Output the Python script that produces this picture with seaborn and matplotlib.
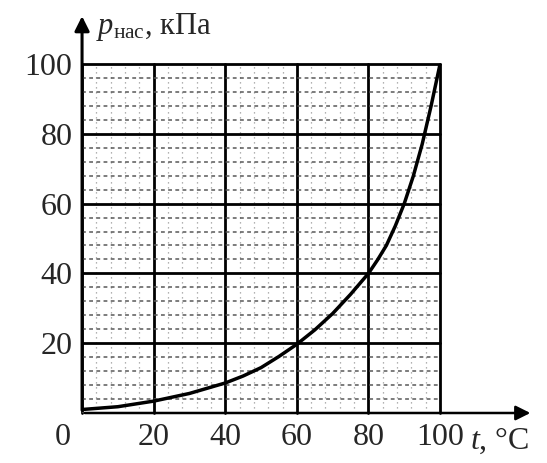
import matplotlib
matplotlib.use("Agg")
import matplotlib.pyplot as plt
import matplotlib.transforms as mtransforms
import seaborn as sns
import pandas as pd

# saturated vapour pressure curve
temps = [0, 10, 20, 30, 40, 45, 50, 55, 60, 65, 70, 75, 80, 82.5, 85,
         87.5, 90, 92.5, 95, 97.5, 100]
pressure = [1.0, 1.8, 3.4, 5.6, 8.6, 10.6, 13.0, 16.2, 19.7, 23.8, 28.5, 34.0, 40.0, 43.8, 48.0,
            53.6, 60.0, 67.8, 77.0, 88.0, 100.0]

x_ticks = [0, 20, 40, 60, 80, 100]
x_tick_labels = ["0", "20", "40", "60", "80", "100"]
y_ticks = [20, 40, 60, 80, 100]
y_tick_labels = ["20", "40", "60", "80", "100"]

df = pd.DataFrame({"t": temps, "p": pressure})

sns.set_style("white")
plt.rcParams['font.family'] = ['Liberation Serif', 'DejaVu Serif']
plt.rcParams['mathtext.fontset'] = 'custom'
plt.rcParams['mathtext.rm'] = 'Liberation Serif'
plt.rcParams['mathtext.it'] = 'Liberation Serif:italic'

fig = plt.figure(figsize=(5.47, 4.63), dpi=100)
ax = fig.add_axes([0.150, 0.108, 0.6545, 0.7538])

sns.lineplot(data=df, x="t", y="p", ax=ax, color="black", lw=2.5, zorder=5)

ax.set_xlim(0, 100)
ax.set_ylim(0, 100)
ax.set_xticks(x_ticks, x_tick_labels)
ax.set_yticks(y_ticks, y_tick_labels)
ax.set_xticks(range(0, 101, 4), minor=True)
ax.set_yticks(range(0, 101, 4), minor=True)
# minor grid: horizontal dashes darker, vertical dots faint
ax.grid(axis="y", which="minor", color="0.35", lw=1.1, ls=(0, (2.5, 2.2)))
ax.grid(axis="x", which="minor", color="0.6", lw=0.9, ls=(0, (1, 3)))
ax.grid(which="major", color="black", lw=2.0)
for gl in ax.get_xgridlines() + ax.get_ygridlines():
    gl.set_clip_on(False)
ax.tick_params(which="both", length=0)
ax.tick_params(labelsize=23, pad=7)
ax.set_xlabel("")
ax.set_ylabel("")
for s in ax.spines.values():
    s.set_visible(False)

# the "0" sits left of the y axis
offset = mtransforms.ScaledTranslation(-0.19, 0, fig.dpi_scale_trans)
lbl0 = ax.get_xticklabels()[0]
lbl0.set_transform(lbl0.get_transform() + offset)

# axis arrows
ax.annotate("", xy=(1.26, 0), xytext=(0, 0), xycoords="axes fraction",
            arrowprops=dict(arrowstyle="-|>", color="black", lw=1.8, mutation_scale=22),
            annotation_clip=False)
ax.annotate("", xy=(0, 1.145), xytext=(0, 0), xycoords="axes fraction",
            arrowprops=dict(arrowstyle="-|>", color="black", lw=2.2, mutation_scale=22),
            annotation_clip=False)

ax.text(0.04, 1.105, r"$p_{\mathrm{нас}}$, кПа", transform=ax.transAxes,
        fontsize=22, ha="left", va="center")
ax.text(1.085, -0.08, r"$t$, °C", transform=ax.transAxes,
        fontsize=23, ha="left", va="center")

fig.savefig("out.png", dpi=100, facecolor="white")
